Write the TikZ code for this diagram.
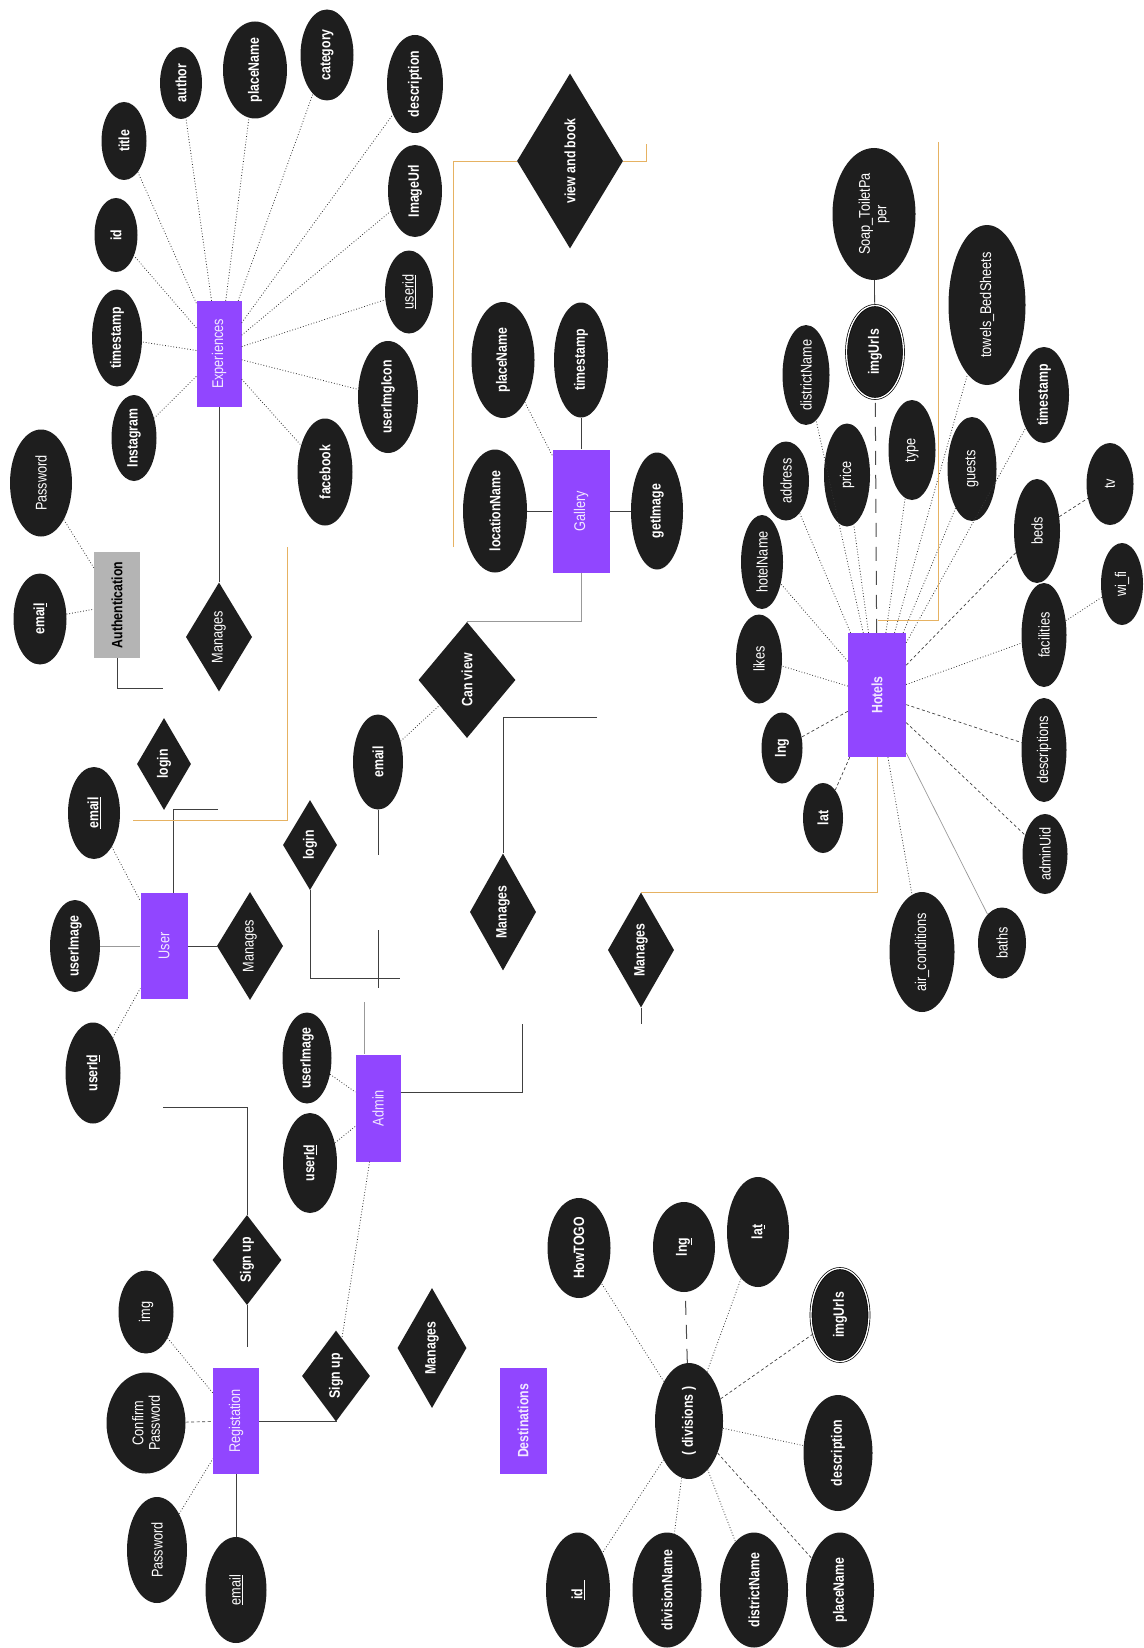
\documentclass[tikz,border=0pt]{standalone}
\usepackage{fontspec}
\setmainfont{Liberation Sans}[FakeStretch=0.82]
\usepackage{xcolor}
\usepackage{tikz}
\usetikzlibrary{shapes.geometric,positioning}
\definecolor{ink}{HTML}{1E1E1E}
\definecolor{purp}{HTML}{9146FF}
\definecolor{authgray}{HTML}{B4B4B4}
\definecolor{gold}{HTML}{E6B262}

\begin{document}
\begin{tikzpicture}[x=1pt, y=-1pt,
  sz/.style 2 args={minimum height=#1, minimum width=#2},
  attr/.style={ellipse, fill=ink, text=white, inner sep=0pt, rotate=90, align=center,
               font=\fontsize{15.5}{16.5}\selectfont},
  battr/.style={attr, font=\fontsize{15}{16}\selectfont\bfseries},
  multi/.style={battr, draw=black, double=white, double distance=1.3pt, line width=0.7pt},
  rel/.style={diamond, fill=ink, text=white, inner sep=0pt, rotate=90,
              font=\fontsize{15}{16}\selectfont\bfseries},
  ent/.style={rectangle, fill=purp, text=white!88!purp, inner sep=0pt, rotate=90,
              font=\fontsize{15.5}{16.5}\selectfont},
  link/.style={draw=black!75, line width=0.8pt},
  faint/.style={draw=black!40, line width=0.7pt},
  dot/.style={draw=black!80, dotted, line width=0.8pt},
  dsh/.style={draw=black!75, dash pattern=on 3pt off 2.5pt, line width=0.7pt},
  longdsh/.style={draw=black!70, dash pattern=on 14pt off 10pt, line width=1pt},
  goldline/.style={draw=gold, line width=0.9pt}
]
  \useasboundingbox (0,0) rectangle (1143,1648);

  % Experiences
  \node[ent, sz={45}{106}] (exp) at (219,354) {Experiences};
  \node[battr, sz={45}{78}] (extitle) at (124,141) {title};
  \node[battr, sz={42}{72}] (exauthor) at (181,83) {author};
  \node[battr, sz={64}{97}] (explace) at (255,70) {placeName};
  \node[battr, sz={53}{91}] (excat) at (327,55) {category};
  \node[battr, sz={56}{98}] (exdesc) at (415,84) {description};
  \node[battr, sz={54}{92}] (eximg) at (415,191) {ImageUrl};
  \node[attr, sz={48}{83}] (exuid) at (409,292) {\underline{userid}};
  \node[battr, sz={60}{112}] (exicon) at (388,397) {userImgIcon};
  \node[battr, sz={55}{107}] (exfb) at (325,472) {facebook};
  \node[battr, sz={45}{86}] (exinsta) at (134,438) {Instagram};
  \node[battr, sz={50}{97}] (exts) at (117,338) {timestamp};
  \node[battr, sz={43}{74}] (exid) at (116,235) {id};
  \foreach \a in {extitle,exauthor,explace,excat,exdesc,eximg,exuid,exicon,exfb,exinsta,exts,exid}
    \draw[dot] (exp) -- (\a);

  % Authentication and user
  \node[rectangle, fill=authgray, inner sep=0pt, rotate=90, sz={46}{106},
        font=\fontsize{15}{16}\selectfont\bfseries] (auth) at (117,605) {Authentication};
  \node[attr, sz={62}{107}] (authpw) at (41,483) {Password};
  \node[battr, sz={53}{91}] (authmail) at (40,619) {emai\underline{l}};
  \node[rel, font=\fontsize{15.5}{16.5}\selectfont, sz={65}{109}] (man1) at (219,637) {Manages};
  \draw[dot] (authpw) -- (auth);
  \draw[dot] (authmail) -- (auth);
  \draw[link] (exp) -- (man1);
  \coordinate (authend) at (163,688);
  \draw[link] (auth) |- (authend);

  \node[ent, sz={47}{106}] (user) at (164,946) {User};
  \node[rel, sz={54}{92}] (login1) at (164,764) {login};
  \node[battr, sz={52}{92}] (usermail) at (94,813) {\underline{email}};
  \node[battr, sz={50}{92}] (userimg) at (75,946) {userImage};
  \node[battr, sz={55}{101}] (userid) at (93,1073) {userI\underline{d}};
  \node[rel, font=\fontsize{15.5}{16.5}\selectfont, sz={64}{108}] (userman) at (250,946) {Manages};
  \draw[dot] (usermail) -- (user);
  \draw[faint] (userimg) -- (user);
  \draw[dot] (userid) -- (user);
  \draw[link] (user) -- (userman);
  \coordinate (userend) at (218,809);
  \draw[link] (userend) -| ([xshift=9pt]user.east);
  \coordinate (ug1) at (287,547);
  \coordinate (ug2) at (133,820);
  \draw[goldline] (ug1) |- (ug2);

  % Admin
  \node[ent, sz={45}{107}] (admin) at (378,1108) {Admin};
  \node[rel, sz={54}{90}] (login2) at (310,845) {login};
  \node[battr, sz={50}{95}] (admail) at (378,762) {email};
  \node[rel, sz={97}{116}] (canview) at (467,680) {Can view};
  \node[battr, sz={49}{91}] (adimg) at (307,1058) {userImage};
  \node[battr, sz={54}{100}] (adid) at (310,1163) {user\underline{Id}};
  \node[rel, sz={64}{117}] (man2) at (503,912) {Manages};
  \node[rel, sz={65}{115}] (man3) at (641,950) {Manages};
  \draw[dot] (admail) -- (canview);
  \draw[link] (admail.west) -- ++(0,45);
  \coordinate (amid1) at (378,930);
  \coordinate (amid2) at (378,988);
  \draw[link] (amid1) -- (amid2);
  \coordinate (l2end) at (400,978);
  \draw[link] (login2.west) |- (l2end);
  \coordinate (adtop) at (364,1002);
  \draw[faint] (adtop) -- (adtop |- admin.east);
  \draw[dot] (adimg) -- (admin);
  \draw[dot] (adid) -- (admin);
  \coordinate (adend) at (522,1024);
  \draw[link] ([yshift=16pt]admin.south) -| (adend);
  \coordinate (m2end) at (597,717);
  \draw[link] (m2end) -| (man2.east);
  \draw[link] (man3.west) -- ++(0,16);

  % Gallery
  \node[ent, sz={57}{123}] (gal) at (581,511) {Gallery};
  \node[rel, sz={106}{175}] (vab) at (570,161) {view and book};
  \node[battr, sz={63}{116}] (galplace) at (503,360) {placeName};
  \node[battr, sz={54}{115}] (galts) at (581,360) {timestamp};
  \node[battr, sz={64}{123}] (galloc) at (495,511) {locationName};
  \node[battr, sz={52}{117}] (galget) at (657,511) {getImage};
  \draw[link] (galloc) -- (gal);
  \draw[link] (gal) -- (galget);
  \draw[link] (gal) -- (galts);
  \draw[dot] (galplace) -- (gal);
  \draw[faint] (gal) |- (canview.east);
  \coordinate (vabin) at (453,547);
  \coordinate (vabout) at (646,144);
  \draw[goldline] (vabin) |- (vab.north);
  \draw[goldline] (vab.south) -| (vabout);

  % Hotels
  \node[ent, font=\fontsize{15}{16}\selectfont\bfseries, sz={58}{124}] (hot) at (877,695) {Hotels};
  \node[attr, sz={83}{132}] (soap) at (874,214) {Soap\_ToiletPa\\per};
  \node[multi, sz={57}{93}] (himg) at (875,352) {imgUrls};
  \node[attr, sz={47}{90}] (hdist) at (806,375) {districtName};
  \node[attr, sz={77}{160}] (towels) at (987,305) {towels\_BedSheets};
  \node[battr, sz={50}{96}] (hts) at (1044,395) {timestamp};
  \node[attr, sz={46}{79}] (haddr) at (786,481) {address};
  \node[attr, sz={46}{103}] (hprice) at (847,475) {price};
  \node[attr, sz={47}{100}] (htype) at (912,450) {type};
  \node[attr, sz={49}{104}] (hguests) at (972,469) {guests};
  \node[attr, sz={42}{94}] (hname) at (762,562) {hotelName};
  \node[attr, sz={46}{89}] (hlikes) at (759,659) {likes};
  \node[battr, sz={41}{71}] (hlng) at (782,748) {lng};
  \node[battr, sz={40}{70}] (hlat) at (823,818) {lat};
  \node[attr, sz={46}{104}] (hbeds) at (1037,531) {beds};
  \node[attr, sz={47}{82}] (htv) at (1110,484) {tv};
  \node[attr, sz={42}{82}] (hwifi) at (1122,584) {wi\_fi};
  \node[attr, sz={45}{104}] (hfac) at (1044,635) {facilities};
  \node[attr, sz={45}{104}] (hdescs) at (1044,750) {descriptions};
  \node[attr, sz={45}{80}] (hadmin) at (1045,854) {adminUid};
  \node[attr, sz={65}{120}] (hair) at (922,952) {air\_conditions};
  \node[attr, sz={48}{71}] (hbaths) at (1002,943) {baths};
  \foreach \a in {haddr,hname,hprice,hdist,htype,hguests,towels,hts,hfac,hlikes,hair}
    \draw[dot] (hot) -- (\a);
  \foreach \a in {hbeds,hdescs,hlng,hlat,hadmin}
    \draw[dsh] (hot) -- (\a);
  \draw[faint] (hot) -- (hbaths);
  \draw[longdsh] (hot) -- (himg);
  \draw[link] (himg) -- (soap);
  \draw[dsh] (hbeds) -- (htv);
  \draw[dot] (hfac) -- (hwifi);
  \coordinate (hg1) at (938,142);
  \coordinate (hg2) at (878,620);
  \draw[goldline] (hg1) |- (hg2);
  \draw[goldline] (hot) |- (man3.east);

  % Registation
  \node[ent, sz={46}{106}] (reg) at (236,1421) {Registation};
  \node[rel, sz={69}{90}] (signup1) at (247,1260) {Sign up};
  \node[rel, sz={68}{91}] (signup2) at (336,1376) {Sign up};
  \node[attr, sz={55}{83}] (regimg) at (146,1312) {img};
  \node[attr, sz={79}{101}] (regconf) at (146,1423) {Confirm\\Password};
  \node[attr, sz={60}{106}] (regpw) at (157,1550) {Password};
  \node[attr, sz={61}{106}] (regmail) at (236,1590) {\underline{email}};
  \draw[dot] (regimg) -- (reg);
  \draw[dsh] (regconf) -- (reg);
  \draw[dot] (regpw) -- (reg);
  \draw[link] (reg) -- (regmail);
  \draw[link] (reg) -| (signup2.west);
  \draw[dot] (admin) -- (signup2);
  \coordinate (su1end) at (163,1107);
  \draw[link] (signup1.east) |- (su1end);
  \draw[link] (signup1.west) -- ++(0,42);

  % Destinations
  \node[rel, sz={69}{120}] (man4) at (432,1348) {Manages};
  \node[ent, font=\fontsize{15}{16}\selectfont\bfseries, sz={47}{106}] (dest) at (523,1421) {Destinations};
  \node[battr, sz={68}{116}] (ddiv) at (689,1421) {( divisions )};
  \node[battr, sz={63}{100}] (dhow) at (579,1248) {HowTOGO};
  \node[battr, sz={62}{90}] (dlng) at (684,1247) {ln\underline{g}};
  \node[battr, sz={62}{110}] (dlat) at (758,1232) {la\underline{t}};
  \node[multi, sz={58}{93}] (dimg) at (840,1315) {imgUrls};
  \node[battr, sz={69}{116}] (ddesc) at (838,1453) {description};
  \node[battr, sz={68}{115}] (dplace) at (840,1590) {placeName};
  \node[battr, sz={68}{115}] (ddist) at (754,1590) {districtName};
  \node[battr, sz={69}{115}] (ddivn) at (667,1590) {divisionName};
  \node[battr, sz={64}{115}] (did) at (578,1590) {\underline{id\hspace{9pt}}};
  \foreach \a in {dhow,dlat,ddesc,ddist,ddivn,did}
    \draw[dot] (ddiv) -- (\a);
  \foreach \a in {dimg,dplace}
    \draw[dsh] (ddiv) -- (\a);
  \draw[longdsh] (ddiv) -- (dlng);
\end{tikzpicture}
\end{document}
